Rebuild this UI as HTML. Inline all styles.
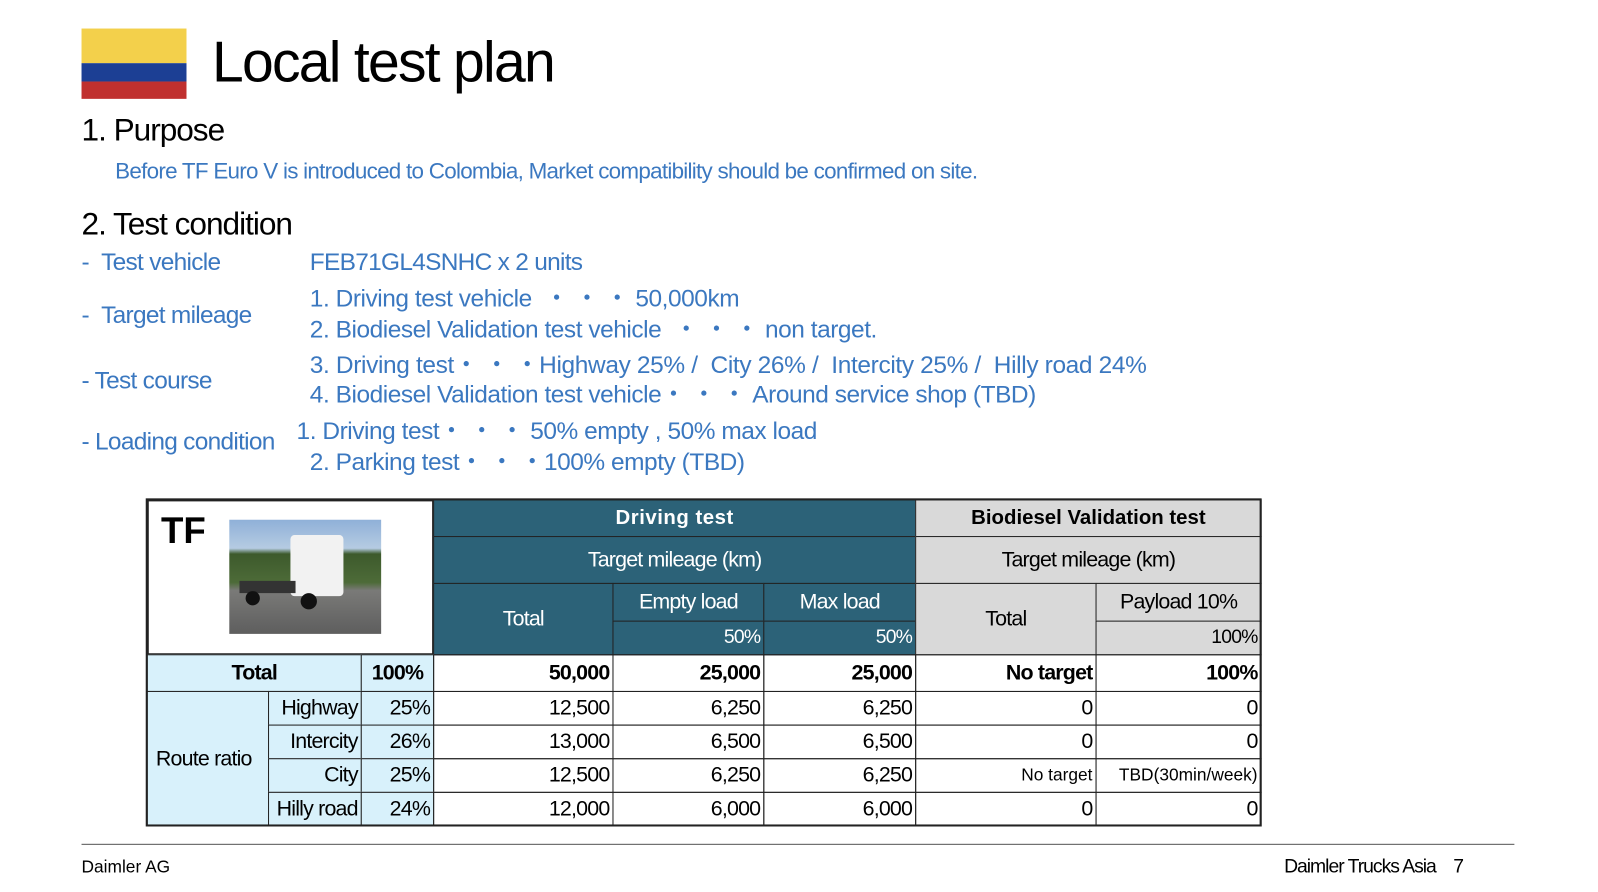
<!DOCTYPE html>
<html><head><meta charset="utf-8">
<style>
body{margin:0;background:#fff;}
#w{width:1598px;height:892px;overflow:hidden;position:relative;}
#s{position:relative;width:1568px;height:875px;transform:scale(1.0191);transform-origin:0 0;font-family:"Liberation Sans",sans-serif;}
.t{position:absolute;white-space:nowrap;}
.b{color:#3b78c0;font-size:24px;letter-spacing:-0.7px;}
.v{letter-spacing:-0.45px;}
.c{position:absolute;box-sizing:border-box;border:1px solid #222;display:flex;align-items:center;white-space:nowrap;font-size:21px;letter-spacing:-0.8px;padding:0 3px;}
.d{background:#2c6278;color:#fff;}
.g{background:#d9d9d9;color:#000;}
.l{background:#d8f1fb;}
.r{justify-content:flex-end;}
.m{justify-content:center;}
.bo{font-weight:bold;}
</style></head><body>
<div id="w">
<div id="s">
<div style="position:absolute;left:80px;top:28px;width:103px;height:69px;">
<div style="height:34px;background:#f3d04b"></div><div style="height:18px;background:#1c3f94"></div><div style="height:17px;background:#c0302f"></div></div>
<div class="t" style="left:208px;top:28px;font-size:56px;letter-spacing:-1.7px;">Local test plan</div>
<div class="t" style="left:80px;top:110px;font-size:31px;letter-spacing:-1px;">1. Purpose</div>
<div class="t b" style="left:113px;top:155px;font-size:22px;letter-spacing:-0.72px;">Before TF Euro V is introduced to Colombia, Market compatibility should be confirmed on site.</div>
<div class="t" style="left:80px;top:202px;font-size:31px;letter-spacing:-1px;">2. Test condition</div>
<div class="t b" style="left:80px;top:244px;">-&nbsp;&nbsp;Test vehicle</div>
<div class="t b" style="left:304px;top:244px;">FEB71GL4SNHC x 2 units</div>
<div class="t b" style="left:80px;top:296px;">-&nbsp;&nbsp;Target mileage</div>
<div class="t b v" style="left:304px;top:273px;">1. Driving test vehicle &nbsp;・ ・ ・ 50,000km</div>
<div class="t b v" style="left:304px;top:303px;">2. Biodiesel Validation test vehicle &nbsp;・ ・ ・ non target.</div>
<div class="t b" style="left:80px;top:360px;">- Test course</div>
<div class="t b v" style="left:304px;top:338px;letter-spacing:-0.35px;">3. Driving test・ ・ ・Highway 25% /&nbsp; City 26% /&nbsp; Intercity 25% /&nbsp; Hilly road 24%</div>
<div class="t b v" style="left:304px;top:367px;">4. Biodiesel Validation test vehicle・ ・ ・ Around service shop (TBD)</div>
<div class="t b" style="left:80px;top:420px;">- Loading condition</div>
<div class="t b v" style="left:291px;top:403px;">1. Driving test・ ・ ・ 50% empty , 50% max load</div>
<div class="t b v" style="left:304px;top:433px;">2. Parking test・ ・ ・100% empty (TBD)</div>

<div>
<div class="c" style="left:144px;top:490px;width:282px;height:153px;border-width:2px;"></div>
<div class="t" style="left:158px;top:500px;font-size:36px;font-weight:bold;">TF</div>
<div style="position:absolute;left:225px;top:510px;width:149px;height:112px;background:linear-gradient(#8fb0d8 0%,#b5cbe2 25%,#3d5a2c 30%,#4d6b38 55%,#7a7a78 62%,#5e5e5e 100%);">
<div style="position:absolute;left:60px;top:15px;width:52px;height:60px;background:#f2f2f2;border-radius:4px;"></div>
<div style="position:absolute;left:10px;top:60px;width:55px;height:12px;background:#333;"></div>
<div style="position:absolute;left:70px;top:72px;width:16px;height:16px;border-radius:50%;background:#111;"></div>
<div style="position:absolute;left:16px;top:70px;width:14px;height:14px;border-radius:50%;background:#111;"></div>
</div>
<div class="c d m bo" style="left:425px;top:490px;width:474px;height:37px;font-size:20px;letter-spacing:0.5px;">Driving test</div>
<div class="c g m bo" style="left:898px;top:490px;width:340px;height:37px;font-size:20px;letter-spacing:0;">Biodiesel Validation test</div>
<div class="c d m" style="left:425px;top:526px;width:474px;height:47px;">Target mileage (km)</div>
<div class="c g m" style="left:898px;top:526px;width:340px;height:47px;">Target mileage (km)</div>
<div class="c d m" style="left:425px;top:572px;width:177px;height:71px;">Total</div>
<div class="c d m" style="left:601px;top:572px;width:149px;height:38px;">Empty load</div>
<div class="c d m" style="left:749px;top:572px;width:150px;height:38px;">Max load</div>
<div class="c d r" style="left:601px;top:609px;width:149px;height:34px;font-size:19px;">50%</div>
<div class="c d r" style="left:749px;top:609px;width:150px;height:34px;font-size:19px;">50%</div>
<div class="c g m" style="left:898px;top:572px;width:178px;height:71px;">Total</div>
<div class="c g m" style="left:1075px;top:572px;width:163px;height:38px;">Payload 10%</div>
<div class="c g r" style="left:1075px;top:609px;width:163px;height:34px;font-size:19px;">100%</div>

<div class="c l m bo" style="left:144px;top:642px;width:211px;height:37px;">Total</div>
<div class="c l m bo" style="left:354px;top:642px;width:72px;height:37px;">100%</div>
<div class="c r bo" style="left:425px;top:642px;width:177px;height:37px;">50,000</div>
<div class="c r bo" style="left:601px;top:642px;width:149px;height:37px;">25,000</div>
<div class="c r bo" style="left:749px;top:642px;width:150px;height:37px;">25,000</div>
<div class="c r bo" style="left:898px;top:642px;width:178px;height:37px;">No target</div>
<div class="c r bo" style="left:1075px;top:642px;width:163px;height:37px;">100%</div>

<div class="c l" style="left:144px;top:678px;width:120px;height:133px;padding-left:8px;">Route ratio</div>
</div>
<div style="position:absolute;left:143px;top:489px;width:1095px;height:322px;border:2px solid #222;box-sizing:border-box;z-index:2;"></div>
<div style="position:absolute;left:80px;top:828px;width:1406px;height:1px;background:#555;"></div>
<div class="t" style="left:80px;top:841px;font-size:17px;">Daimler AG</div>
<div class="t" style="left:1260px;top:840px;font-size:19px;letter-spacing:-1px;">Daimler Trucks Asia &nbsp;&nbsp;&nbsp;7</div>
</div>
</div>
<script>
const routes=["Highway","Intercity","City","Hilly road"];
const pcts=["25%","26%","25%","24%"];
const totals=["12,500","13,000","12,500","12,000"];
const empties=["6,250","6,500","6,250","6,000"];
const maxes=["6,250","6,500","6,250","6,000"];
const bioTotals=["0","0","No target","0"];
const payloads=["0","0","TBD(30min/week)","0"];
const s=document.getElementById('s');
const cols=[[263,92],[354,72],[425,177],[601,149],[749,150],[898,178],[1075,163]];
for(let i=0;i<routes.length;i++){
  const y=678+i*33;
  const vals=[routes[i],pcts[i],totals[i],empties[i],maxes[i],bioTotals[i],payloads[i]];
  vals.forEach((v,j)=>{
    const el=document.createElement('div');
    el.className='c r'+(j<2?' l':'');
    el.style.left=cols[j][0]+'px';el.style.top=y+'px';
    el.style.width=cols[j][1]+'px';el.style.height='34px';
    if(j>=5&&v.length>3){el.style.fontSize='17px';el.style.letterSpacing='0px';}
    el.textContent=v;
    
    
    s.appendChild(el);
  });
}
</script>
</body></html>
